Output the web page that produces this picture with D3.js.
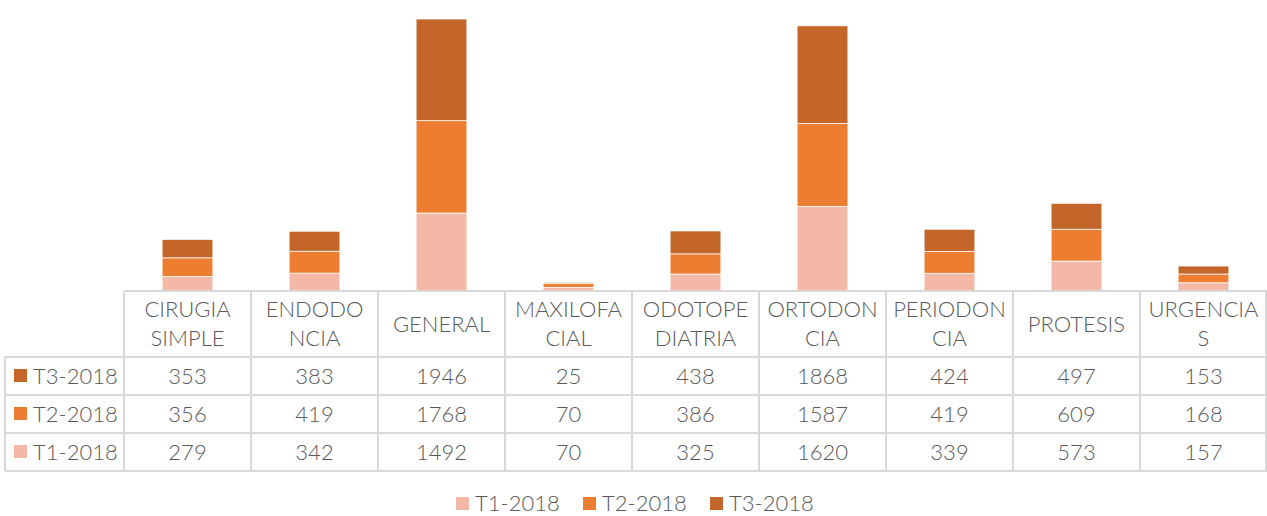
<!DOCTYPE html>
<html>
<head>
<meta charset="utf-8">
<script src="https://cdn.jsdelivr.net/npm/d3@7"></script>
<style>
  body { margin: 0; background: #fff; }
  svg text { font-family: Lato, "DejaVu Sans", sans-serif; font-weight: 300; fill: #595959; }
</style>
</head>
<body>
<svg id="chart" width="1267" height="516"></svg>
<script>
// data
const categories = ["CIRUGIA SIMPLE", "ENDODONCIA", "GENERAL", "MAXILOFACIAL", "ODOTOPEDIATRIA",
  "ORTODONCIA", "PERIODONCIA", "PROTESIS", "URGENCIAS"];
// header labels as Excel wraps them
const categoryLines = [["CIRUGIA", "SIMPLE"], ["ENDODO", "NCIA"], ["GENERAL"], ["MAXILOFA", "CIAL"],
  ["ODOTOPE", "DIATRIA"], ["ORTODON", "CIA"], ["PERIODON", "CIA"], ["PROTESIS"], ["URGENCIA", "S"]];
const seriesNames = ["T1-2018", "T2-2018", "T3-2018"];
const t1 = [279, 342, 1492, 70, 325, 1620, 339, 573, 157];
const t2 = [356, 419, 1768, 70, 386, 1587, 419, 609, 168];
const t3 = [353, 383, 1946, 25, 438, 1868, 424, 497, 153];
const colors = ["#F4B9A6", "#ED7D31", "#C4652A"];

const series = [t1, t2, t3];
const rows = categories.map((c, i) => {
  const r = { cat: c };
  seriesNames.forEach((s, j) => r[s] = series[j][i]);
  return r;
});

const svg = d3.select("#chart");
const width = 1267;

// table geometry
const tableLeft = 5, colLeft = 124, baseY = 291, headerBottom = 357, rowH = 38;
const gridColor = "#D9D9D9";

const x = d3.scaleBand().domain(categories).range([colLeft, width]).padding(0);
const maxTotal = d3.max(rows, d => d3.sum(seriesNames, s => d[s]));
const y = d3.scaleLinear().domain([0, maxTotal]).range([baseY, 19]);

// stacked bars
const stack = d3.stack().keys(seriesNames)(rows);
const barW = x.bandwidth() * 0.4;
svg.append("g").selectAll("g")
  .data(stack).join("g")
  .attr("fill", (d, i) => colors[i])
  .selectAll("rect")
  .data(d => d).join("rect")
  .attr("x", d => x(d.data.cat) + (x.bandwidth() - barW) / 2)
  .attr("width", barW)
  .attr("y", d => y(d[1]))
  .attr("height", d => y(d[0]) - y(d[1]))
  .attr("stroke", "#fff")
  .attr("stroke-width", 0.75);

// data table grid
const grid = svg.append("g").attr("stroke", gridColor).attr("stroke-width", 2);
const tableRows = [2, 1, 0]; // T3 on top
const tableBottom = headerBottom + rowH * tableRows.length;
grid.append("line").attr("x1", colLeft).attr("x2", width).attr("y1", baseY).attr("y2", baseY);
tableRows.forEach((s, k) => {
  const yy = headerBottom + rowH * k;
  grid.append("line").attr("x1", tableLeft).attr("x2", width).attr("y1", yy).attr("y2", yy);
});
grid.append("line").attr("x1", tableLeft).attr("x2", width).attr("y1", tableBottom).attr("y2", tableBottom);
grid.append("line").attr("x1", tableLeft).attr("x2", tableLeft).attr("y1", headerBottom).attr("y2", tableBottom);
categories.forEach(c => {
  grid.append("line").attr("x1", x(c)).attr("x2", x(c)).attr("y1", baseY).attr("y2", tableBottom);
});
grid.append("line").attr("x1", width - 1).attr("x2", width - 1).attr("y1", baseY).attr("y2", tableBottom);

// header labels
const fs = 22;
const header = svg.append("g").attr("font-size", fs).attr("text-anchor", "middle");
categories.forEach((c, i) => {
  const lines = categoryLines[i];
  const cx = x(c) + x.bandwidth() / 2;
  const midY = (baseY + headerBottom) / 2;
  const lh = 29;
  lines.forEach((ln, k) => {
    header.append("text")
      .attr("x", cx)
      .attr("y", midY + (k - (lines.length - 1) / 2) * lh)
      .attr("dy", "0.36em")
      .text(ln);
  });
});

// row labels + values
tableRows.forEach((s, k) => {
  const cy = headerBottom + rowH * k + rowH / 2;
  svg.append("rect").attr("x", 14).attr("y", cy - 7).attr("width", 13).attr("height", 13).attr("fill", colors[s]);
  svg.append("text").attr("x", 33).attr("y", cy).attr("dy", "0.36em").attr("font-size", fs).text(seriesNames[s]);
  categories.forEach((c, i) => {
    svg.append("text")
      .attr("x", x(c) + x.bandwidth() / 2)
      .attr("y", cy)
      .attr("dy", "0.36em")
      .attr("text-anchor", "middle")
      .attr("font-size", fs)
      .text(series[s][i]);
  });
});

// bottom legend
const legend = svg.append("g").attr("transform", "translate(456,503)");
seriesNames.forEach((s, i) => {
  const g = legend.append("g").attr("transform", `translate(${i * 127},0)`);
  g.append("rect").attr("x", 0).attr("y", -6).attr("width", 13).attr("height", 13).attr("fill", colors[i]);
  g.append("text").attr("x", 19).attr("y", 0).attr("dy", "0.36em").attr("font-size", fs).text(s);
});
</script>
</body>
</html>
